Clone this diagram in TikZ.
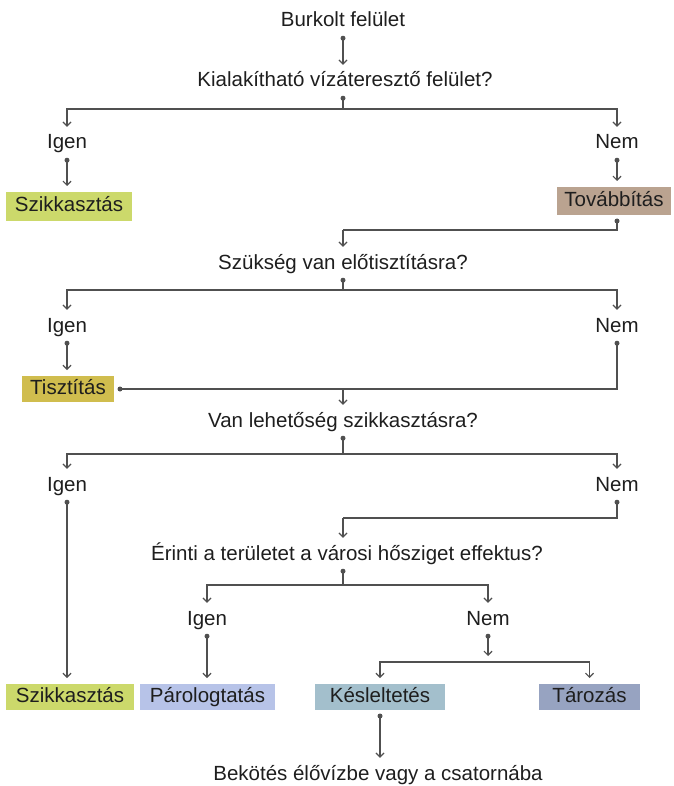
\documentclass[tikz,border=0pt]{standalone}
\usepackage{fontspec}
\setmainfont{Liberation Sans}
\usetikzlibrary{arrows.meta}
\definecolor{linec}{HTML}{505050}
\definecolor{textc}{HTML}{1E1E1E}
\definecolor{cszik}{HTML}{CCD96B}
\definecolor{ctovab}{HTML}{BAA390}
\definecolor{ctiszt}{HTML}{D0BD4E}
\definecolor{cparo}{HTML}{B7C3E8}
\definecolor{ckesl}{HTML}{A3BFCC}
\definecolor{ctaroz}{HTML}{97A3C1}
\begin{document}
\begin{tikzpicture}[x=1pt,y=-1pt,
  txt/.style={font=\fontsize{20.5}{24}\selectfont, text=textc, inner xsep=0pt, inner ysep=7pt, text height=15pt, text depth=4pt, anchor=base},
  box/.style={font=\fontsize{20.5}{24}\selectfont, text=textc, inner sep=0pt, text height=15pt, text depth=4pt, outer sep=6pt, anchor=center},
  conn/.style={draw=linec, line width=1.2pt},
  arr/.style={conn, -{Straight Barb[length=4pt,width=8pt]}},
  dot/.style={circle, fill=linec, draw=none, inner sep=0pt, minimum size=5pt}
]
\useasboundingbox (0,0) rectangle (673,786);
% text nodes
\node[txt] (burk) at (343,27) {Burkolt felület};
\node[txt] (kial) at (345,87) {Kialakítható vízáteresztő felület?};
\node[txt] (igen1) at (67,149) {Igen};
\node[txt] (nem1) at (617,149) {Nem};
\node[txt] (szuk) at (343,269) {Szükség van előtisztításra?};
\node[txt] (igen2) at (67,332) {Igen};
\node[txt] (nem2) at (617,332) {Nem};
\node[txt] (van) at (343,427) {Van lehetőség szikkasztásra?};
\node[txt] (igen3) at (67,491) {Igen};
\node[txt] (nem3) at (617,491) {Nem};
\node[txt] (erint) at (347,560) {Érinti a területet a városi hősziget effektus?};
\node[txt] (igen4) at (207,625) {Igen};
\node[txt] (nem4) at (488,625) {Nem};
\node[txt] (bekot) at (378,780) {Bekötés élővízbe vagy a csatornába};
% boxes
\node[box, fill=cszik, minimum width=126pt, minimum height=29pt] (szik1) at (69,206.5) {Szikkasztás};
\node[box, fill=ctovab, minimum width=114pt, minimum height=28pt] (tovab) at (614,201) {Továbbítás};
\node[box, fill=ctiszt, minimum width=92pt, minimum height=26pt] (tiszt) at (68,389) {Tisztítás};
\node[box, fill=cszik, minimum width=128pt, minimum height=26pt] (szik2) at (70,697) {Szikkasztás};
\node[box, fill=cparo, minimum width=135pt, minimum height=26pt] (paro) at (207.5,697) {Párologtatás};
\node[box, fill=ckesl, minimum width=130pt, minimum height=26pt] (kesl) at (380,697) {Késleltetés};
\node[box, fill=ctaroz, minimum width=101pt, minimum height=26pt] (taroz) at (589.5,697) {Tározás};
% junctions
\coordinate (j1) at (343,109);
\coordinate (j2) at (343,230);
\coordinate (j3) at (343,290);
\coordinate (j4) at (343,389);
\coordinate (j5) at (343,454);
\coordinate (j6) at (343,518);
\coordinate (j7) at (343,585);
\coordinate (j8) at (488,656);
\coordinate (j9) at (488,662);
% connectors
\draw[arr] (burk.south -| j1) node[dot]{} -- (j1 |- kial.north);
\draw[conn] (kial.south -| j1) node[dot]{} -- (j1);
\draw[arr] (j1) -| (igen1.north);
\draw[arr] (j1) -| (nem1.north);
\draw[arr] (igen1.south) node[dot]{} -- (igen1.south |- szik1.north);
\draw[arr] (nem1.south) node[dot]{} -- (nem1.south |- tovab.north);
\draw[conn] (tovab.south -| nem1.south) node[dot]{} |- (j2);
\draw[arr] (j2) -- (j2 |- szuk.north);
\draw[conn] (szuk.south -| j3) node[dot]{} -- (j3);
\draw[arr] (j3) -| (igen2.north);
\draw[arr] (j3) -| (nem2.north);
\draw[arr] (igen2.south) node[dot]{} -- (igen2.south |- tiszt.north);
\draw[conn] (nem2.south) node[dot]{} |- (tiszt.east) node[dot]{};
\draw[arr] (j4) -- (j4 |- van.north);
\draw[conn] (van.south -| j5) node[dot]{} -- (j5);
\draw[arr] (j5) -| (igen3.north);
\draw[arr] (j5) -| (nem3.north);
\draw[arr] (igen3.south) node[dot]{} -- (igen3.south |- szik2.north);
\draw[conn] (nem3.south) node[dot]{} |- (j6);
\draw[arr] (j6) -- (j6 |- erint.north);
\draw[conn] (erint.south -| j7) node[dot]{} -- (j7);
\draw[arr] (j7) -| (igen4.north);
\draw[arr] (j7) -| (nem4.north);
\draw[arr] (igen4.south) node[dot]{} -- (igen4.south |- paro.north);
\draw[arr] (nem4.south) node[dot]{} -- (j8);
\draw[arr] (j9) -| (kesl.north);
\draw[arr] (j9) -| (taroz.north);
\draw[arr] (kesl.south) node[dot]{} -- (kesl.south |- bekot.north);
\end{tikzpicture}
\end{document}
